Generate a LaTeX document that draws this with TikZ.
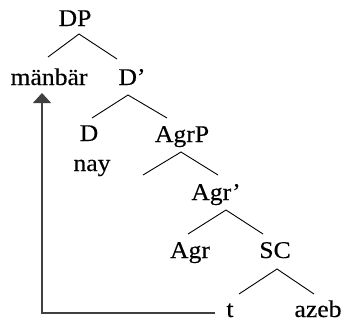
\documentclass[tikz,border=0pt]{standalone}
\usepackage{fontspec}
\setmainfont{Liberation Serif}[FakeStretch=1.07,FakeBold=0.25]
\usetikzlibrary{arrows.meta}
\begin{document}
\begin{tikzpicture}[x=1pt,y=-1pt,
  lbl/.style={anchor=base,inner sep=0pt,font=\fontsize{24}{28}\selectfont},
  branch/.style={line width=0.9pt,black},
  move/.style={line width=1.3pt,black!75,-{Triangle[width=18pt,length=10pt]}}]
\useasboundingbox (0,0) rectangle (342,322);
% labels
\node[lbl] (DP)   at (75,26)  {DP};
\node[lbl] (man)  at (49,85)  {mänbär};
\node[lbl] (Db)   at (132,85) {D’};
\node[lbl] (D)    at (89,141) {D};
\node[lbl] (nay)  at (92,171) {nay};
\node[lbl] (AgrP) at (182,142){AgrP};
\node[lbl] (Agrb) at (216,200){Agr’};
\node[lbl] (Agr)  at (190,258){Agr};
\node[lbl] (SC)   at (275,258){SC};
\node[lbl] (t)    at (230,317){t};
\node[lbl] (azeb) at (318,317){azeb};
% branch points
\coordinate (DP-b)   at (79,34);
\coordinate (man-t)  at (48,57);
\coordinate (Db-t)   at (117,59);
\coordinate (Db-b)   at (128,95);
\coordinate (D-t)    at (92,118);
\coordinate (AgrP-t) at (167,118);
\coordinate (AgrP-b) at (181,152);
\coordinate (nay-r)  at (143,175);
\coordinate (Agrb-t) at (218,175);
\coordinate (Agrb-b) at (226,210);
\coordinate (Agr-t)  at (188,234);
\coordinate (SC-t)   at (263,234);
\coordinate (SC-b)   at (277,269);
\coordinate (t-t)    at (239,294);
\coordinate (azeb-t) at (314,294);
% movement path
\coordinate (t-l)    at (215,313);
\coordinate (corner) at (42,313);
\coordinate (man-b)  at (42,93);
% tree
\draw[branch] (man-t) -- (DP-b) -- (Db-t);
\draw[branch] (D-t) -- (Db-b) -- (AgrP-t);
\draw[branch] (nay-r) -- (AgrP-b) -- (Agrb-t);
\draw[branch] (Agr-t) -- (Agrb-b) -- (SC-t);
\draw[branch] (t-t) -- (SC-b) -- (azeb-t);
% movement arrow
\draw[move] (t-l) -- (corner) -- (man-b);
\end{tikzpicture}
\end{document}
